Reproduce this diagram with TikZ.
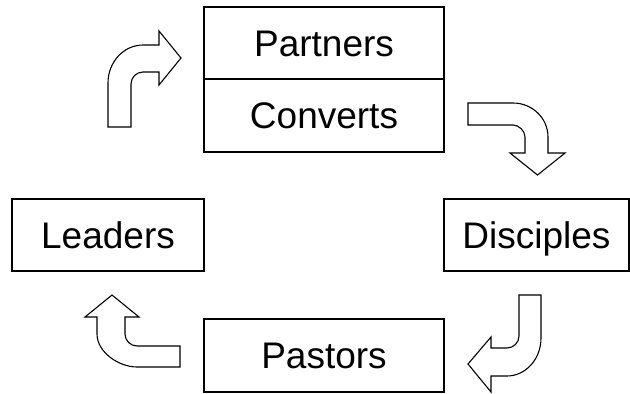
\documentclass[tikz,border=0pt]{standalone}
\usepackage{fontspec}
\setmainfont{Liberation Sans}
\begin{document}
\begin{tikzpicture}[x=1pt,y=-1pt,
  stagebox/.style={draw, line width=1.3pt, inner sep=0pt, outer sep=0pt,
    font=\fontsize{37}{44}\selectfont, text height=26.5pt, text depth=0pt,
    anchor=center},
  bentarrow/.style={draw, line width=1.1pt, fill=white, line join=miter}]
\useasboundingbox (0,0) rectangle (630,394);

% stages of the cycle
\node[stagebox, minimum width=240pt, minimum height=72pt] (partners) at (324,43) {Partners};
\node[stagebox, minimum width=240pt, minimum height=73pt] (converts) at (324,115.5) {Converts};
\node[stagebox, minimum width=185pt, minimum height=72pt] (disciples) at (536.5,235) {Disciples};
\node[stagebox, minimum width=240pt, minimum height=73pt] (pastors) at (324,355.5) {Pastors};
\node[stagebox, minimum width=192pt, minimum height=72pt] (leaders) at (108,235) {Leaders};

% bent block arrow: up, then right
\draw[bentarrow] (108,127) -- (108,83)
  .. controls (108,62) and (123.7,45) .. (143,45)
  -- (159,45) -- (159,31) -- (181,58) -- (159,85) -- (159,72) -- (143,72)
  .. controls (136.4,72) and (131,77.4) .. (131,84)
  -- (131,127) -- cycle;

% bent block arrow: right, then down
\draw[bentarrow] (468,103) -- (513,103)
  .. controls (532.3,103) and (548,118.2) .. (548,137)
  -- (548,153) -- (565,153) -- (537.5,175) -- (510,153) -- (525,153) -- (525,137)
  .. controls (525,130.4) and (518.4,125) .. (513,125)
  -- (468,125) -- cycle;

% bent block arrow: down, then left
\draw[bentarrow] (519,295) -- (541,295) -- (541,338)
  .. controls (541,359) and (525.8,376) .. (507,376)
  -- (491,376) -- (491,392) -- (468,364) -- (491,337) -- (491,348) -- (507,348)
  .. controls (513.6,348) and (519,342.6) .. (519,336)
  -- cycle;

% bent block arrow: left, then up
\draw[bentarrow] (180,346) -- (137,346)
  .. controls (130.4,346) and (125,340.6) .. (125,334)
  -- (125,317) -- (139,317) -- (112,295) -- (85,317) -- (97,317) -- (97,334)
  .. controls (97,352.2) and (118.8,367) .. (137,367)
  -- (180,367) -- cycle;
\end{tikzpicture}
\end{document}
